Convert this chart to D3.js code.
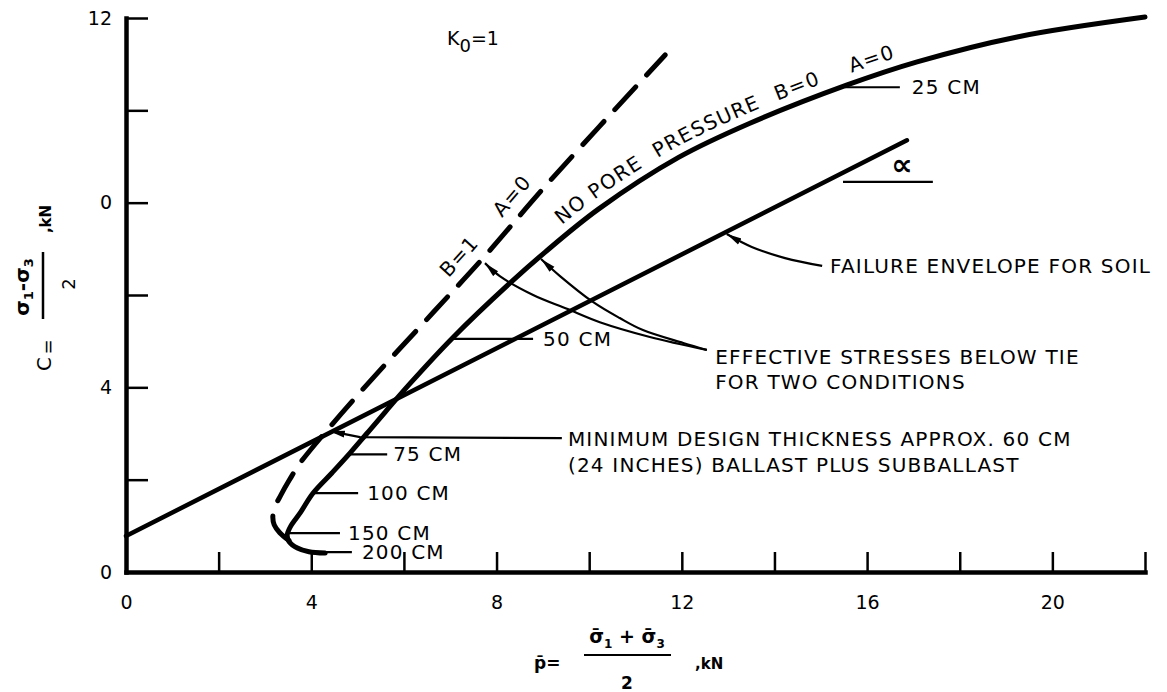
<!DOCTYPE html>
<html><head><meta charset="utf-8">
<script src="https://cdn.jsdelivr.net/npm/d3@7"></script>
<style>
body{margin:0;background:#fff;}
svg{display:block;font-family:"DejaVu Sans",sans-serif;}
.lbl{font-size:20px;letter-spacing:1.2px;fill:#000;}
</style></head><body>
<svg id="c" width="1167" height="692"></svg>
<script>
// ---------- data ----------
const xTicks = [0,2,4,6,8,10,12,14,16,18,20,22];
const xTickLabels = ["0","","4","","8","","12","","16","","20",""];
const yTicks = [0,2,4,6,8,10,12];
const yTickLabels = ["0","","4","","0","","12"];

// stress path, no pore pressure (B=0, A=0)
const noPoreP = [4.30,3.95,3.70,3.52,3.48,3.56,3.76,4.04,4.45,4.84,5.20,5.60,6.13,7.05,8.27,9.05,10.20,11.93,13.47,15.57,17.08,19.24,22.00];
const noPoreC = [0.41,0.44,0.52,0.66,0.80,1.00,1.28,1.71,2.15,2.58,3.00,3.47,4.08,5.07,6.24,6.93,7.86,8.98,9.72,10.55,11.05,11.59,12.02];
// stress path B=1, A=0 (dashed)
const b1P = [3.52,3.32,3.20,3.17,3.22,3.34,3.52,3.76,4.34,5.33,6.63,7.71,9.09,11.64];
const b1C = [0.68,0.85,1.02,1.20,1.42,1.66,1.98,2.36,3.07,4.20,5.62,6.80,8.40,11.20];
// failure envelope for soil
const envP = [0, 16.86];
const envC = [0.78, 9.35];
// depth below tie marked on the no-pore-pressure path
const depthLabels = ["25 CM","50 CM","75 CM","100 CM","150 CM","200 CM"];
const depthP = [15.52,7.04,4.84,4.04,3.54,3.97];
const depthC = [10.50,5.05,2.55,1.71,0.84,0.43];
// words written along the paths
const noPoreWords = ["NO PORE","PRESSURE","B=0","A=0"];
const noPoreWordP = [9.54,11.57,14.14,15.72];
const b1Words = ["B=1","A=0"];
const b1WordP = [7.15,8.31];

// ---------- layout ----------
const x = d3.scaleLinear().domain([0,22]).range([126,1145]);
const y = d3.scaleLinear().domain([0,12]).range([572,18]);
const depthLeader = [55,81,37,45,50,42];
const depthGap = [12,10,6,9,8,10];

const svg = d3.select("#c");
const defs = svg.append("defs");
defs.append("marker").attr("id","arr").attr("markerUnits","userSpaceOnUse")
  .attr("markerWidth",18).attr("markerHeight",10).attr("refX",15).attr("refY",4)
  .attr("orient","auto")
  .append("path").attr("d","M0,0.5 L15,4 L0,7.5 Z").attr("fill","#000");

// axes
const xAxis = d3.axisBottom(x).tickValues(xTicks).tickSize(-20).tickSizeOuter(0)
  .tickPadding(24).tickFormat((d,i)=>xTickLabels[i]);
const yAxis = d3.axisLeft(y).tickValues(yTicks).tickSize(-22).tickSizeOuter(0)
  .tickPadding(14).tickFormat((d,i)=>yTickLabels[i]);
const gx = svg.append("g").attr("transform","translate(0,572)").call(xAxis);
const gy = svg.append("g").attr("transform","translate(126,0)").call(yAxis);
[gx,gy].forEach(g=>{
  g.select(".domain").attr("stroke","#000").attr("stroke-width",4.5).attr("stroke-linecap","square");
  g.selectAll(".tick line").attr("stroke","#000").attr("stroke-width",2.5);
  g.selectAll(".tick text").attr("font-size",19).attr("font-family","DejaVu Sans").attr("fill","#000");
});

// curves
const line = d3.line().x(d=>x(d[0])).y(d=>y(d[1])).curve(d3.curveCatmullRom.alpha(0.5));
svg.append("path").attr("d",line(d3.zip(envP,envC))).attr("fill","none")
  .attr("stroke","#000").attr("stroke-width",4.5).attr("stroke-linecap","round");
const solid = svg.append("path").attr("id","pSolid").attr("d",line(d3.zip(noPoreP,noPoreC)))
  .attr("fill","none").attr("stroke","#000").attr("stroke-width",5).attr("stroke-linecap","round");
const dashed = svg.append("path").attr("id","pDash").attr("d",line(d3.zip(b1P,b1C)))
  .attr("fill","none").attr("stroke","#000").attr("stroke-width",5)
  .attr("stroke-dasharray","31,16").attr("stroke-linecap","round");

function lenAtX(node, px){
  const total = node.getTotalLength();
  let minX = Infinity, minL = 0;
  for(let L=0; L<=total; L+=1){ const p=node.getPointAtLength(L); if(p.x<minX){minX=p.x;minL=L;} }
  for(let L=minL; L<=total; L+=0.5){ const p=node.getPointAtLength(L); if(p.x>=px) return L; }
  return total;
}
function pathLabels(node, id, words, ps, dy){
  words.forEach((w,i)=>{
    svg.append("text").attr("class","lbl")
      .append("textPath").attr("href","#"+id).attr("startOffset",lenAtX(node,x(ps[i])))
      .append("tspan").attr("dy",dy).text(w);
  });
}
pathLabels(solid.node(),"pSolid",noPoreWords,noPoreWordP,-10);
pathLabels(dashed.node(),"pDash",b1Words,b1WordP,-12);

// depth leaders
depthLabels.forEach((lab,i)=>{
  const x0 = x(depthP[i]), y0 = y(depthC[i]);
  svg.append("line").attr("x1",x0).attr("y1",y0).attr("x2",x0+depthLeader[i]).attr("y2",y0)
    .attr("stroke","#000").attr("stroke-width",2.2);
  svg.append("text").attr("class","lbl").attr("font-size",i>=4?19:20)
    .attr("x",x0+depthLeader[i]+depthGap[i]).attr("y",y0+7).text(lab);
});

// leaders with arrows (in data units)
const leader = d3.line().x(d=>x(d[0])).y(d=>y(d[1])).curve(d3.curveCatmullRom.alpha(0.5));
const failLeader = [[15.03,6.63],[14.23,6.80],[13.51,7.04],[12.97,7.32]];
const effLeaderA = [[12.54,4.81],[11.31,5.09],[10.23,5.41],[9.52,5.70],[8.79,6.00],[8.07,6.41],[7.75,6.69]];
const effLeaderB = [[12.54,4.81],[12.03,4.96],[11.16,5.24],[10.66,5.50],[10.08,5.85],[9.37,6.41],[8.96,6.78]];
const minLeader = [[9.41,2.90],[5.05,2.92],[4.40,3.05]];
[failLeader,effLeaderA,effLeaderB].forEach(pts=>{
  svg.append("path").attr("d",leader(pts)).attr("fill","none").attr("stroke","#000")
    .attr("stroke-width",2.2).attr("marker-end","url(#arr)");
});
svg.append("path").attr("d",d3.line().x(d=>x(d[0])).y(d=>y(d[1]))(minLeader)).attr("fill","none")
  .attr("stroke","#000").attr("stroke-width",2.2).attr("marker-end","url(#arr)");

// annotation text
function lbl(px, cy, str){ return svg.append("text").attr("class","lbl").attr("x",x(px)).attr("y",y(cy)).text(str); }
lbl(15.2,6.48,"FAILURE ENVELOPE FOR SOIL");
lbl(12.72,4.50,"EFFECTIVE STRESSES BELOW TIE");
lbl(12.72,3.96,"FOR TWO CONDITIONS");
lbl(9.54,2.73,"MINIMUM DESIGN THICKNESS APPROX. 60 CM");
lbl(9.54,2.17,"(24 INCHES) BALLAST PLUS SUBBALLAST");

// angle alpha
svg.append("line").attr("x1",x(15.48)).attr("x2",x(17.42)).attr("y1",y(8.45)).attr("y2",y(8.45))
  .attr("stroke","#000").attr("stroke-width",2.2);
svg.append("text").attr("x",x(16.75)).attr("y",y(8.82)).attr("text-anchor","middle")
  .attr("dominant-baseline","central").attr("font-size",30).attr("font-weight","bold").text("∝");

// K0 = 1
const k = svg.append("text").attr("x",x(6.93)).attr("y",y(11.41)).attr("font-size",19);
k.append("tspan").text("K");
k.append("tspan").attr("dy",7).attr("font-size",18).text("0");
k.append("tspan").attr("dy",-7).text("=1");

// y axis title (rotated)
function rt(px,py,size,weight){
  return svg.append("text").attr("transform",`translate(${px},${py}) rotate(-90)`)
    .attr("text-anchor","middle").attr("dominant-baseline","central")
    .attr("font-size",size).attr("font-weight",weight||"normal");
}
rt(44,364,20).text("C");
rt(47,347,18).text("=");
const yn = rt(22,287,20,"bold");
yn.append("tspan").text("σ");
yn.append("tspan").attr("dy",6).attr("font-size",13).text("1");
yn.append("tspan").attr("dy",-6).text("-σ");
yn.append("tspan").attr("dy",6).attr("font-size",13).text("3");
svg.append("line").attr("x1",43).attr("x2",43).attr("y1",252).attr("y2",319).attr("stroke","#000").attr("stroke-width",2.5);
rt(68,284,18).text("2");
rt(46,219,15,"bold").text(",kN");

// x axis title
svg.append("text").attr("x",534).attr("y",669).attr("font-size",17).attr("font-weight","bold").text("p̄=");
const xn = svg.append("text").attr("x",627).attr("y",643).attr("text-anchor","middle").attr("font-size",19).attr("font-weight","bold");
xn.append("tspan").text("σ̄");
xn.append("tspan").attr("dy",5).attr("font-size",12).text("1");
xn.append("tspan").attr("dy",-5).text(" + σ̄");
xn.append("tspan").attr("dy",5).attr("font-size",12).text("3");
svg.append("line").attr("x1",584).attr("x2",671).attr("y1",655).attr("y2",655).attr("stroke","#000").attr("stroke-width",2);
svg.append("text").attr("x",627).attr("y",689).attr("text-anchor","middle").attr("font-size",17).attr("font-weight","bold").text("2");
svg.append("text").attr("x",695).attr("y",669).attr("font-size",15).attr("font-weight","bold").text(",kN");
</script>
</body></html>
